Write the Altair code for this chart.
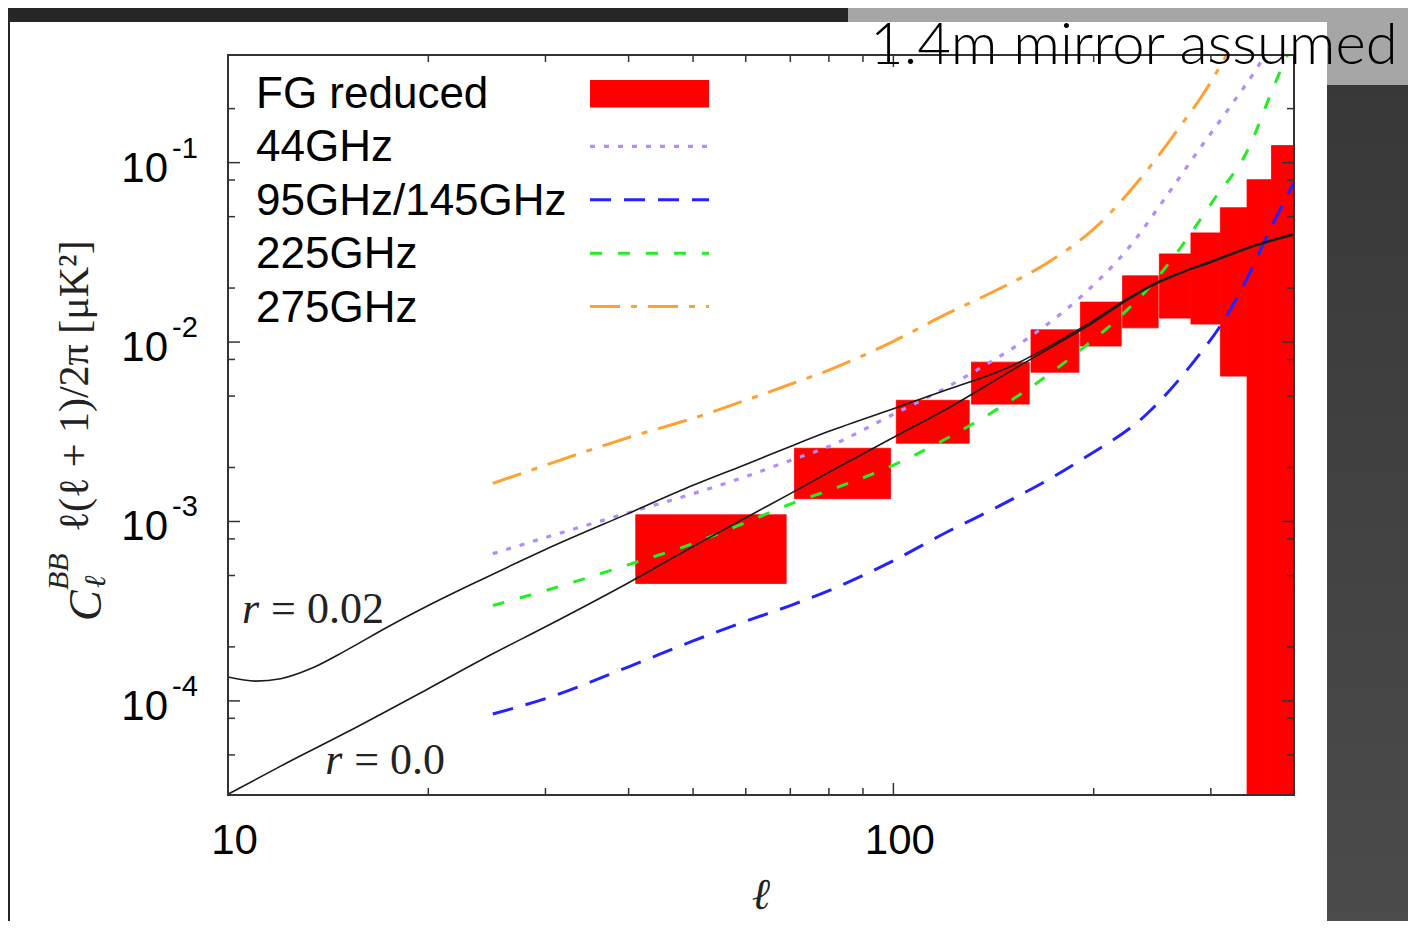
import altair as alt
import pandas as pd

# ---------------- data ----------------
ell_r002 = [10, 11, 12, 13.3, 15, 17.4, 20, 24.2, 30, 40, 50, 60, 70, 80, 100, 120, 150, 175, 200, 225,
            250, 275, 300, 350, 400]
bb_r002 = [1.36e-4, 1.29e-4, 1.33e-4, 1.51e-4, 1.90e-4, 2.59e-4, 3.40e-4, 4.80e-4, 6.98e-4, 1.11e-3,
           1.59e-3, 2.08e-3, 2.62e-3, 3.18e-3, 4.25e-3, 5.40e-3, 7.31e-3, 9.87e-3, 1.32e-2, 1.75e-2,
           2.17e-2, 2.50e-2, 2.82e-2, 3.48e-2, 4.01e-2]

ell_r0 = [10, 12, 15, 20, 25, 30, 40, 50, 60, 70, 80, 100, 120, 150, 175, 200, 225, 250, 275, 300, 350, 400]
bb_r0 = [3.02e-5, 4.33e-5, 6.62e-5, 1.17e-4, 1.83e-4, 2.59e-4, 4.56e-4, 7.25e-4, 1.05e-3, 1.43e-3,
         1.88e-3, 2.94e-3, 4.22e-3, 6.89e-3, 9.62e-3, 1.29e-2, 1.72e-2, 2.14e-2, 2.48e-2, 2.78e-2,
         3.44e-2, 3.96e-2]

ell_44 = [25, 30, 40, 50, 60, 70, 80, 100, 120, 135, 161, 191, 227, 255, 286, 321, 353, 366]
n_44 = [6.62e-4, 8.14e-4, 1.12e-3, 1.43e-3, 1.78e-3, 2.19e-3, 2.62e-3, 3.96e-3, 5.57e-3, 7.16e-3,
        1.08e-2, 1.78e-2, 3.44e-2, 6.21e-2, 0.114, 0.206, 0.343, 0.428]

ell_95 = [25, 30, 40, 50, 60, 70, 80, 100, 120, 143, 191, 241, 287, 310, 341, 365, 400]
n_95 = [8.46e-5, 1.03e-4, 1.55e-4, 2.16e-4, 2.78e-4, 3.40e-4, 4.12e-4, 6.05e-4, 8.68e-4, 1.20e-3,
        2.19e-3, 4.01e-3, 8.35e-3, 1.23e-2, 2.31e-2, 3.96e-2, 7.73e-2]

ell_225 = [25, 30, 40, 50, 60, 70, 80, 100, 120, 140, 161, 191, 222, 244, 270, 303, 341, 373, 391, 400]
n_225 = [3.40e-4, 4.12e-4, 5.75e-4, 7.54e-4, 9.87e-4, 1.25e-3, 1.49e-3, 2.06e-3, 2.89e-3, 4.01e-3,
         5.61e-3, 9.02e-3, 1.45e-2, 2.08e-2, 3.35e-2, 6.21e-2, 0.118, 0.266, 0.396, 0.462]

ell_275 = [25, 30, 40, 50, 60, 70, 80, 100, 120, 143, 170, 202, 241, 270, 293, 314, 327]
n_275 = [1.63e-3, 2.06e-3, 2.94e-3, 3.76e-3, 4.74e-3, 5.82e-3, 6.98e-3, 1.01e-2, 1.43e-2, 1.95e-2,
         2.75e-2, 4.41e-2, 9.14e-2, 0.160, 0.245, 0.376, 0.486]

fg_lo = [41, 71, 101, 131, 161, 191, 221, 251, 280, 310, 340, 370]
fg_hi = [69, 99, 130, 160, 190, 220, 250, 280, 310, 340, 370, 400]
fg_top = [1.09e-3, 2.56e-3, 4.74e-3, 7.73e-3, 1.17e-2, 1.67e-2, 2.34e-2, 3.10e-2, 4.06e-2, 5.61e-2, 8.04e-2, 0.1245]
fg_bot = [4.51e-4, 1.34e-3, 2.73e-3, 4.51e-3, 6.79e-3, 9.50e-3, 1.20e-2, 1.36e-2, 1.26e-2, 6.46e-3, 1e-6, 1e-6]

x_major = [10, 100]
x_minor = [20, 30, 40, 50, 60, 70, 80, 90, 200, 300, 400]
y_major = [1e-4, 1e-3, 1e-2, 1e-1]
y_base_labels = ["10", "10", "10", "10"]
y_exp_labels = ["-4", "-3", "-2", "-1"]
y_minor = [5e-5, 8e-5, 2e-4, 5e-4, 8e-4, 2e-3, 5e-3, 8e-3, 2e-2, 5e-2, 8e-2, 0.2]

legend_labels = ["FG reduced", "44GHz", "95GHz/145GHz", "225GHz", "275GHz"]

r_label_l = [10.5, 14.0]
r_label_v = [2.73e-4, 3.91e-5]
r_label_txt = ["= 0.02", "= 0.0"]

# ---------------- layout / style ----------------
W, H = 1066, 740
xs = alt.Scale(type="log", domain=[10, 400], nice=False)
ys = alt.Scale(type="log", domain=[2.99e-5, 0.398], nice=False)
xaxis = alt.Axis(values=x_major, labelExpr="format(datum.value, 'd')", domain=False, ticks=False,
                 tickSize=0, grid=False, labelFont="Liberation Sans", labelFontSize=42,
                 labelColor="black", labelPadding=25, labelOffset=6, labelFlush=False,
                 zindex=1, title=None)

SANS = "Liberation Sans"
SERIF = "Liberation Serif"
INK = "#1a1a1a"

styles = {
    "44GHz": dict(color="#b48aff", dash=[5, 9], width=3.2),
    "95GHz/145GHz": dict(color="#2323ff", dash=[21, 13], width=3),
    "225GHz": dict(color="#22ee22", dash=[12, 16], width=3),
    "275GHz": dict(color="#ffa033", dash=[30, 11, 6, 11], width=3),
}


def X(f):
    return alt.X(f, type="quantitative", scale=xs, axis=xaxis)


def Y(f):
    return alt.Y(f, type="quantitative", scale=ys, axis=None)


dummy = pd.DataFrame({"a": [0]})


def prect(x1, x2, y1, y2, color):
    return alt.Chart(dummy).mark_rect(color=color).encode(
        x=alt.value(x1), x2=alt.value(x2), y=alt.value(y1), y2=alt.value(y2))


layers = []

# page decoration: grey label box, right strip, white panel
layers.append(prect(620, 1200, -60, 30, "#a6a6a6"))
strip = alt.LinearGradient(gradient="linear",
                           stops=[alt.GradientStop(color="#383838", offset=0),
                                  alt.GradientStop(color="#4c4c4c", offset=1)],
                           x1=0, x2=0, y1=0, y2=1)
layers.append(alt.Chart(dummy).mark_rect(color=strip).encode(
    x=alt.value(1099), x2=alt.value(1200), y=alt.value(30), y2=alt.value(900)))
layers.append(prect(-218, 1099, -33, 900, "white"))

# FG reduced boxes
df_fg = pd.DataFrame({"lo": fg_lo, "hi": fg_hi, "top": fg_top, "bot": fg_bot})
layers.append(alt.Chart(df_fg).mark_rect(color="#ff0000", stroke="#ff0000", strokeWidth=0.8,
                                         clip=True).encode(
    x=X("lo"), x2="hi", y=Y("bot"), y2="top"))

# noise curves
series = [("44GHz", ell_44, n_44), ("95GHz/145GHz", ell_95, n_95),
          ("225GHz", ell_225, n_225), ("275GHz", ell_275, n_275)]
for name, ls, vs in series:
    st = styles[name]
    d = pd.DataFrame({"l": ls, "v": vs})
    layers.append(alt.Chart(d).mark_line(color=st["color"], strokeDash=st["dash"],
                                         strokeWidth=st["width"], clip=True,
                                         interpolate="monotone").encode(
        x=X("l"), y=Y("v"), order="l:Q"))

# theory curves
for ls, vs in [(ell_r002, bb_r002), (ell_r0, bb_r0)]:
    d = pd.DataFrame({"l": ls, "v": vs})
    layers.append(alt.Chart(d).mark_line(color=INK, strokeWidth=1.6, clip=True,
                                         interpolate="monotone").encode(
        x=X("l"), y=Y("v"), order="l:Q"))

# r labels
df_r = pd.DataFrame({"l": r_label_l, "v": r_label_v, "t": r_label_txt})
layers.append(alt.Chart(df_r).mark_text(text="r", font=SERIF, fontStyle="italic", fontSize=44,
                                        align="left", baseline="alphabetic", color="#222").encode(
    x=X("l"), y=Y("v")))
layers.append(alt.Chart(df_r).mark_text(font=SERIF, fontSize=44, align="left", dx=29,
                                        baseline="alphabetic", color="#222").encode(
    x=X("l"), y=Y("v"), text="t:N"))

# inward ticks on all four sides
for vals, ln in [(x_major, 12), (x_minor, 7)]:
    d = pd.DataFrame({"v": vals})
    layers.append(alt.Chart(d).mark_rule(color="#333", strokeWidth=1.5).encode(
        x=X("v"), y=alt.value(H), y2=alt.value(H - ln)))
    layers.append(alt.Chart(d).mark_rule(color="#333", strokeWidth=1.5).encode(
        x=X("v"), y=alt.value(0), y2=alt.value(ln)))
for vals, ln in [(y_major, 12), (y_minor, 7)]:
    d = pd.DataFrame({"v": vals})
    layers.append(alt.Chart(d).mark_rule(color="#333", strokeWidth=1.5).encode(
        y=Y("v"), x=alt.value(0), x2=alt.value(ln)))
    layers.append(alt.Chart(d).mark_rule(color="#333", strokeWidth=1.5).encode(
        y=Y("v"), x=alt.value(W), x2=alt.value(W - ln)))

# y tick labels 10^n
df_yl = pd.DataFrame({"v": y_major, "b": y_base_labels, "e": y_exp_labels})
layers.append(alt.Chart(df_yl).mark_text(font=SANS, fontSize=42, align="right", baseline="alphabetic",
                                         dy=19, color="black").encode(
    y=Y("v"), x=alt.value(-60), text="b:N"))
layers.append(alt.Chart(df_yl).mark_text(font=SANS, fontSize=29, align="left", baseline="alphabetic",
                                         dy=-5, color="black").encode(
    y=Y("v"), x=alt.value(-56), text="e:N"))

# frame
layers.append(alt.Chart(dummy).mark_rect(fillOpacity=0, stroke="#333", strokeWidth=2).encode(
    x=alt.value(0), x2=alt.value(W), y=alt.value(0), y2=alt.value(H)))


def ptext(txt, x, y, **kw):
    return alt.Chart(dummy).mark_text(text=txt, **kw).encode(x=alt.value(x), y=alt.value(y))


# axis titles
layers.append(ptext("\u2113", W / 2, 854, font=SERIF, fontStyle="italic", fontSize=44,
                    align="center", baseline="alphabetic", color="#222"))
layers.append(ptext("C", -127, 566, font=SERIF, fontStyle="italic", fontSize=46, angle=270,
                    align="left", baseline="alphabetic", color="#222"))
layers.append(ptext("BB", -160, 535, font=SERIF, fontStyle="italic", fontSize=30, angle=270,
                    align="left", baseline="alphabetic", color="#222"))
layers.append(ptext("\u2113", -123, 533, font=SERIF, fontStyle="italic", fontSize=30, angle=270,
                    align="left", baseline="alphabetic", color="#222"))
layers.append(ptext("\u2113(\u2113 + 1)/2\u03c0  [\u03bcK\u00b2]", -140, 477, font=SERIF, fontSize=42,
                    angle=270, align="left", baseline="alphabetic", color="#222"))

# legend
leg_x_text = 28
leg_base0, leg_step = 53, 53.4
for i, lab in enumerate(legend_labels):
    yb = leg_base0 + leg_step * i
    layers.append(ptext(lab, leg_x_text, yb, font=SANS, fontSize=44, align="left",
                        baseline="alphabetic", color="black"))
    if i == 0:
        layers.append(prect(362, 481, yb - 28, yb - 0.5, "#ff0000"))
    else:
        st = styles[lab]
        ym = yb - 15
        layers.append(alt.Chart(dummy).mark_rule(color=st["color"], strokeDash=st["dash"],
                                                 strokeWidth=st["width"]).encode(
            x=alt.value(362), x2=alt.value(481), y=alt.value(ym)))

# overlay label
layers.append(ptext("1.4m mirror assumed", 642, 9, font="Lato", fontWeight=300, fontSize=58,
                    align="left", baseline="alphabetic", color="black"))

chart = alt.layer(*layers).properties(
    width=W, height=H,
    autosize=alt.AutoSizeParams(type="none"),
    padding={"left": 220, "top": 47, "right": 114, "bottom": 126},
    background="#262626",
).configure_view(stroke=None)

chart.save("out.html", embed_options={"renderer": "svg", "actions": False})
